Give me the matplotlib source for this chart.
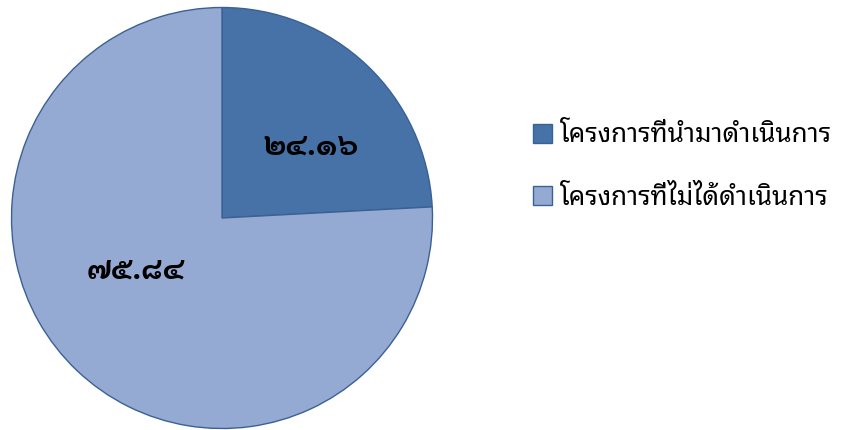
import matplotlib
matplotlib.use("Agg")
from matplotlib import pyplot as plt

labels = ["โครงการที่นำมาดำเนินการ", "โครงการที่ไม่ได้ดำเนินการ"]
values = [24.16, 75.84]
value_text = ["๒๔.๑๖", "๗๕.๘๔"]

plt.rcParams['font.family'] = ['Noto Sans Thai Looped', 'DejaVu Sans']

W, H = 845, 430
fig = plt.figure(figsize=(W / 100, H / 100), dpi=100)
ax = fig.add_axes([0, 0, 1, 1])

# work in pixel coordinates (y counted from bottom)
cx, cy, r = 222, H - 218, 210.5
wedges, texts = ax.pie(
    values,
    colors=["#4672A8", "#95AAD3"],
    startangle=90,
    counterclock=False,
    center=(cx, cy),
    radius=r,
    wedgeprops=dict(edgecolor="#3A6194", linewidth=1.0),
)
ax.set_xlim(0, W)
ax.set_ylim(0, H)
ax.set_aspect("equal")
ax.axis("off")

ax.text(311, H - 146, value_text[0], ha="center", va="center", fontsize=22.5,
        fontweight="bold", family=["Sarabun", "DejaVu Sans"])
ax.text(136, H - 270, value_text[1], ha="center", va="center", fontsize=22.5,
        fontweight="bold", family=["Sarabun", "DejaVu Sans"])

fig.legend(wedges, labels, loc="upper left", bbox_to_anchor=(509 / W, 1 - 100 / H),
           frameon=False, fontsize=18.8, handlelength=0.75, handleheight=0.75,
           handletextpad=0.3, labelspacing=1.42)
fig.savefig("out.png", dpi=100)
